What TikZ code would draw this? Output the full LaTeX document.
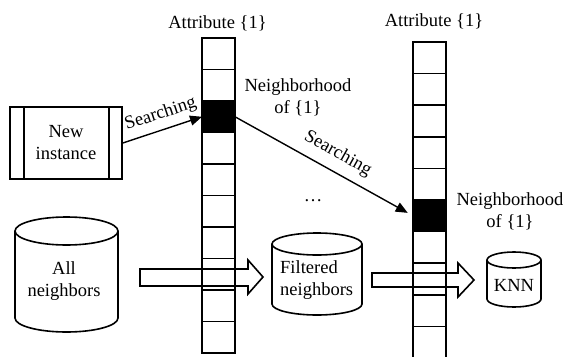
\documentclass[tikz,border=0pt]{standalone}
\usepackage{fontspec}
\setmainfont{Liberation Serif}
\usetikzlibrary{arrows.meta}
\begin{document}
\begin{tikzpicture}[x=1pt,y=-1pt,
  font=\fontsize{18.5}{22}\selectfont,
  cell/.style={draw, line width=1.7pt, minimum width=33pt, minimum height=31.5pt, inner sep=0pt, outer sep=0pt},
  hot/.style={cell, fill=black},
  lbl/.style={align=center, inner sep=0pt},
  ptr/.style={-{Triangle[length=12pt,width=10pt]}, line width=1.4pt},
  fat/.style={draw, line width=1.6pt, line join=miter},
  db/.style={line width=1.6pt}]
\useasboundingbox (0,0) rectangle (567,356);

% hollow transfer arrows
\draw[fat] (140,269) -- (248,269) -- (248,260) -- (263,277) -- (248,294) -- (248,286) -- (140,286) -- cycle;
\draw[fat] (372,273) -- (458,273) -- (458,263) -- (474,280) -- (458,297) -- (458,287) -- (372,287) -- cycle;

% attribute columns
\foreach \k in {0,...,9} \node[cell] (a\k) at (218.5,{38+31.5*\k+15.75}) {};
\node[hot] (a2) at (218.5,{38+31.5*2+15.75}) {};
\foreach \k in {0,...,9} \node[cell, minimum height=31.6pt] (b\k) at (429.5,{42+31.6*\k+15.8}) {};
\node[hot, minimum height=31.6pt] (b5) at (429.5,{42+31.6*5+15.8}) {};

\node[lbl] (t1) at (217.5,23) {Attribute \{1\}};
\node[lbl] (t2) at (434,21) {Attribute \{1\}};

% new instance box
\node[draw, line width=1.6pt, minimum width=112pt, minimum height=72pt, inner sep=0pt, align=center] (ni) at (66,143) {New\\instance};
\draw[line width=1.6pt] ([xshift=15pt]ni.north west) -- ([xshift=15pt]ni.south west);
\draw[line width=1.6pt] ([xshift=-14pt]ni.north east) -- ([xshift=-14pt]ni.south east);

% search arrows
\draw[ptr] (ni.east) -- node[pos=0.54, sloped, above=3pt] {Searching} (a2.west);
\draw[ptr, shorten >=6pt] (a2.east) -- node[pos=0.53, sloped, above=5pt] {Searching} (b5.west);

\node[lbl] (n1) at (298,97) {Neighborhood\\of \{1\}};
\node[lbl] (n2) at (510,211) {Neighborhood\\of \{1\}};
\node[lbl] (dots) at (313,201) {\ldots};

% cylinders
\draw[db] (15,231) -- (15,318) arc[start angle=180, end angle=360, x radius=51.5pt, y radius=14pt] -- (118,231);
\draw[db] (66.5,231) ellipse[x radius=51.5pt, y radius=14pt];
\node[lbl] (all) at (64,281) {All\\neighbors};

\draw[db] (272,244) -- (272,304) arc[start angle=180, end angle=360, x radius=45pt, y radius=11pt] -- (362,244);
\draw[db] (317,244) ellipse[x radius=45pt, y radius=11pt];
\node[lbl, align=left, anchor=west] (flt) at (280,280) {Filtered\\neighbors};

\draw[db] (487,260) -- (487,299) arc[start angle=180, end angle=360, x radius=27pt, y radius=8pt] -- (541,260);
\draw[db] (514,260) ellipse[x radius=27pt, y radius=8pt];
\node[lbl] (knn) at (514,285) {KNN};
\end{tikzpicture}
\end{document}
